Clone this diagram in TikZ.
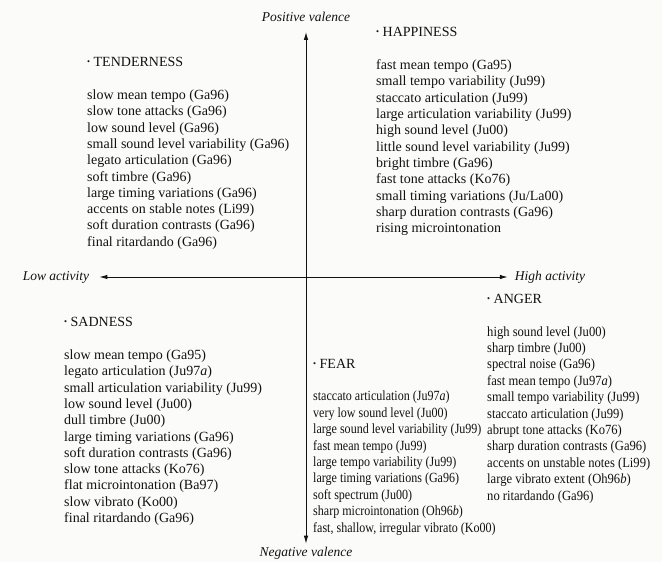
\documentclass[tikz,border=0pt]{standalone}
\usepackage{fontspec}
\setmainfont{Liberation Serif}
\newfontfamily\narrowfont[FakeStretch=0.9]{Liberation Serif}
\newfontfamily\fearfont[FakeStretch=0.86]{Liberation Serif}
\usetikzlibrary{positioning}
\usetikzlibrary{arrows.meta}
\definecolor{ink}{RGB}{18,18,18}
\definecolor{paper}{RGB}{251,251,249}
\newcommand{\emo}[1]{\raisebox{1.6pt}{\fontsize{8.5}{8.5}\selectfont\textbullet}\hspace{3.5pt}#1}

\begin{document}
\begin{tikzpicture}[x=1pt, y=-1pt, node distance=0pt,
    >={Latex[length=8pt,width=4.5pt]},
    every node/.style={inner sep=0pt, text=ink},
    axislabel/.style={font=\fontsize{13.5}{15}\selectfont\itshape},
    emohead/.style={anchor=base west, font=\fontsize{14}{16.3}\selectfont},
    cues/.style={align=left, font=\fontsize{14}{16.3}\selectfont},
    tightcues/.style={align=left, font=\narrowfont\fontsize{14}{16.4}\selectfont}]

    \fill[paper] (0,0) rectangle (662,562);

    % Axis labels
    \node (posval) [axislabel] at (306,17) {Positive valence};
    \node (negval) [axislabel] at (306,553) {Negative valence};
    \node (lowact) [axislabel] at (56,277) {Low activity};
    \node (highact) [axislabel] at (550,277) {High activity};

    % Axes
    \draw[<->, line width=0.9pt, ink, shorten <=10pt, shorten >=3pt] (posval) -- (negval);
    \draw[<->, line width=0.9pt, ink, shorten <=10pt, shorten >=7pt] (lowact) -- (highact);

    % Tenderness
    \node (tenderhead) [emohead] at (87,66.5) {\emo{TENDERNESS}};
    \node (tendercues) [cues, below right=22.8pt and 0pt of tenderhead.south west] {slow mean tempo (Ga96)\\ slow tone attacks (Ga96)\\ low sound level (Ga96)\\ small sound level variability (Ga96)\\ legato articulation (Ga96)\\ soft timbre (Ga96)\\ large timing variations (Ga96)\\ accents on stable notes (Li99)\\ soft duration contrasts (Ga96)\\ final ritardando (Ga96)};

    % Happiness
    \node (happyhead) [emohead] at (376,36.5) {\emo{HAPPINESS}};
    \node (happycues) [cues, below right=22.8pt and 0pt of happyhead.south west] {fast mean tempo (Ga95)\\ small tempo variability (Ju99)\\ staccato articulation (Ju99)\\ large articulation variability (Ju99)\\ high sound level (Ju00)\\ little sound level variability (Ju99)\\ bright timbre (Ga96)\\ fast tone attacks (Ko76)\\ small timing variations (Ju/La00)\\ sharp duration contrasts (Ga96)\\ rising microintonation};

    % Sadness
    \node (sadhead) [emohead] at (64,326.5) {\emo{SADNESS}};
    \node (sadcues) [cues, below right=22.8pt and 0pt of sadhead.south west] {slow mean tempo (Ga95)\\ legato articulation (Ju97\textit{a})\\ small articulation variability (Ju99)\\ low sound level (Ju00)\\ dull timbre (Ju00)\\ large timing variations (Ga96)\\ soft duration contrasts (Ga96)\\ slow tone attacks (Ko76)\\ flat microintonation (Ba97)\\ slow vibrato (Ko00)\\ final ritardando (Ga96)};

    % Fear
    \node (fearhead) [emohead] at (313,368) {\emo{FEAR}};
    \node (fearcues) [tightcues, font=\fearfont\fontsize{14}{16.4}\selectfont, below right=22.8pt and 0pt of fearhead.south west] {staccato articulation (Ju97\textit{a})\\ very low sound level (Ju00)\\ large sound level variability (Ju99)\\ fast mean tempo (Ju99)\\ large tempo variability (Ju99)\\ large timing variations (Ga96)\\ soft spectrum (Ju00)\\ sharp microintonation (Oh96\textit{b})\\ fast, shallow, irregular vibrato (Ko00)};

    % Anger
    \node (angerhead) [emohead] at (487,303) {\emo{ANGER}};
    \node (angercues) [tightcues, below right=22.8pt and 0pt of angerhead.south west] {high sound level (Ju00)\\ sharp timbre (Ju00)\\ spectral noise (Ga96)\\ fast mean tempo (Ju97\textit{a})\\ small tempo variability (Ju99)\\ staccato articulation (Ju99)\\ abrupt tone attacks (Ko76)\\ sharp duration contrasts (Ga96)\\ accents on unstable notes (Li99)\\ large vibrato extent (Oh96\textit{b})\\ no ritardando (Ga96)};

\end{tikzpicture}
\end{document}
